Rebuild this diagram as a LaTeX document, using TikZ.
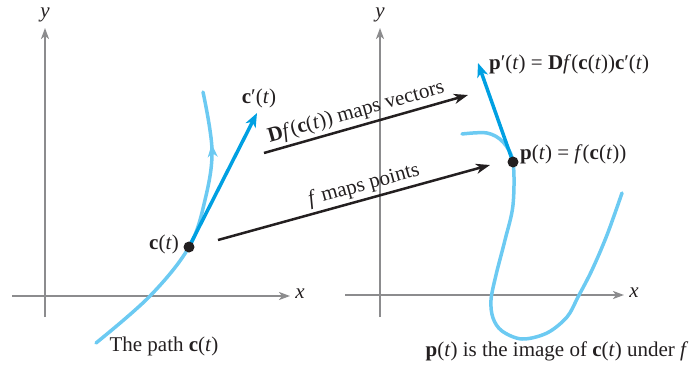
\documentclass[tikz,border=0pt]{standalone}
\usepackage{fontspec}
\setmainfont{Liberation Serif}
\usetikzlibrary{arrows.meta,decorations.markings}
\definecolor{axisgray}{RGB}{140,140,142}
\definecolor{pathblue}{RGB}{108,202,242}
\definecolor{vecblue}{RGB}{0,160,226}
\definecolor{inkblack}{RGB}{35,31,32}
\tikzset{
  axis/.style={axisgray,line width=2pt,-{Stealth[length=11pt,width=8pt,inset=3pt]}},
  curvepath/.style={pathblue,line width=3.5pt,line cap=round},
  tangent/.style={vecblue,line width=3.5pt,-{Stealth[length=14pt,width=11pt,inset=4pt]}},
  maparrow/.style={inkblack,line width=2.5pt,-{Stealth[length=14pt,width=10pt,inset=4pt]}},
  lbl/.style={inner sep=0pt,font=\fontsize{21}{25}\selectfont,text=inkblack},
  dotmark/.style={circle,fill=inkblack,inner sep=0pt,minimum size=11pt}
}
\newcommand{\bv}[1]{\textbf{#1}}
\begin{document}
\begin{tikzpicture}[x=1pt,y=-1pt]
\useasboundingbox (0,0) rectangle (694,370);
% left axes
\coordinate (lyb) at (45,317); \coordinate (lyt) at (45,28);
\coordinate (lxl) at (12,296); \coordinate (lxr) at (290,296);
\draw[axis] (lyb) -- (lyt);
\draw[axis] (lxl) -- (lxr);
\node[lbl] (ly) at (45,15) {\textit{y}};
\node[lbl] (lx) at (300,294) {\textit{x}};
% right axes
\coordinate (ryb) at (380,317); \coordinate (ryt) at (380,28);
\coordinate (rxl) at (345,295); \coordinate (rxr) at (624,295);
\draw[axis] (ryb) -- (ryt);
\draw[axis] (rxl) -- (rxr);
\node[lbl] (ry) at (380,15) {\textit{y}};
\node[lbl] (rx) at (634,293) {\textit{x}};
% left path
\draw[curvepath,postaction={decorate},decoration={markings,mark=at position 0.82 with {\arrow[pathblue,line width=2pt]{Stealth[length=13pt,width=10pt,inset=4pt]}}}]
  plot[smooth,tension=0.6] coordinates {(96,343) (150,296) (189,247) (205,200) (212,150) (203,92)};
\coordinate (c) at (189,247);
\coordinate (cp) at (257,113);
\draw[tangent] (c) -- (cp);
\node[dotmark] (cdot) at (c) {};
\node[lbl,anchor=east] (clab) at (179,244) {\bv{c}(\textit{t})};
\node[lbl] (cplab) at (259,98) {\bv{c}′(\textit{t})};
\node[lbl] (pathlab) at (164,346) {The path \bv{c}(\textit{t})};
% right path
\draw[curvepath] plot[smooth,tension=0.55] coordinates {(462,134) (487,133) (503,142) (513,162) (513,205) (505,240) (496,275) (491,300) (493,318) (502,331) (522,339) (547,333) (567,317) (578,297) (592,270) (607,235) (622,193)};
\coordinate (p) at (513,162);
\coordinate (pp) at (478,63);
\draw[tangent] (p) -- (pp);
\node[dotmark] (pdot) at (p) {};
\node[lbl,anchor=west] (plab) at (520,154) {\bv{p}(\textit{t}) = \textit{f}(\bv{c}(\textit{t}))};
\node[lbl,anchor=west] (pplab) at (489,64) {\bv{p}′(\textit{t}) = \bv{D}\textit{f}(\bv{c}(\textit{t}))\bv{c}′(\textit{t})};
\node[lbl] (imglab) at (557,351) {\bv{p}(\textit{t}) is the image of \bv{c}(\textit{t}) under \textit{f}};
% mapping arrows
\coordinate (v0) at (264,153); \coordinate (v1) at (468,95);
\coordinate (m0) at (218,240); \coordinate (m1) at (490,165);
\draw[maparrow] (v0) -- node[lbl,pos=0.47,above=3pt,sloped] {\bv{D}\textit{f}(\bv{c}(\textit{t})) maps vectors} (v1);
\draw[maparrow] (m0) -- node[lbl,pos=0.55,above=3pt,sloped] {\textit{f} maps points} (m1);
\end{tikzpicture}
\end{document}
